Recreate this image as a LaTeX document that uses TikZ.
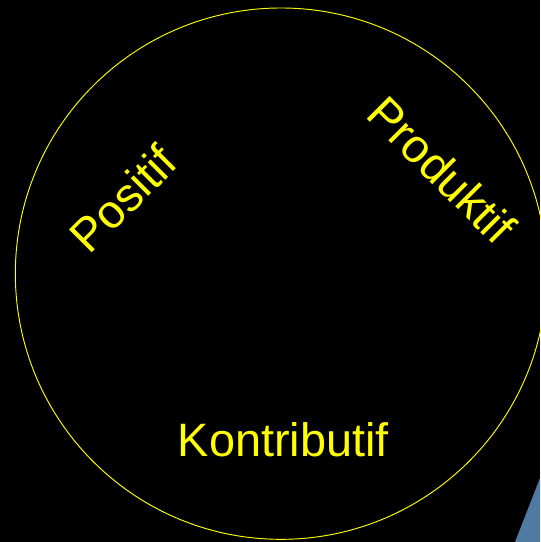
\documentclass[tikz,border=0pt]{standalone}
\usepackage{fontspec}
\setmainfont{Liberation Sans}
\usepackage{xcolor}
\definecolor{CircYellow}{HTML}{FFFF00}
\definecolor{CornerBlue}{HTML}{4F7BA3}
\tikzset{
  wordlabel/.style={text=CircYellow,font=\fontsize{40}{48}\selectfont,inner sep=0pt}
}
\begin{document}
\begin{tikzpicture}[x=1cm,y=1cm]
\fill[black] (0,0) rectangle (16.20,16.26);
\path[use as bounding box] (0,0) rectangle (16.20,16.26);
% corner shape
\fill[CornerBlue] (15.45,0) -- (16.20,1.92) -- (16.20,0) -- cycle;
% ring
\draw[CircYellow,line width=0.8pt] (8.43,8.05) circle (7.97);
\node[wordlabel,rotate=45] (positif) at (3.69,10.29) {Positif};
\node[wordlabel,rotate=-45] (produktif) at (13.26,11.16) {Produktif};
\node[wordlabel,anchor=base] (kontributif) at (8.50,2.55) {Kontributif};
\end{tikzpicture}
\end{document}
